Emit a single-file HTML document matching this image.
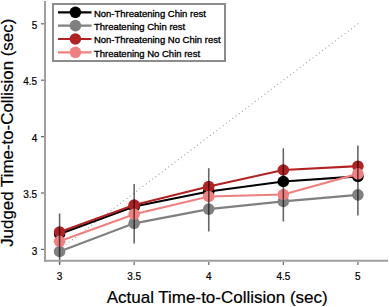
<!DOCTYPE html><html><head><meta charset="utf-8"><style>html,body{margin:0;padding:0;background:#fff}svg{display:block}text{font-family:"Liberation Sans",sans-serif;stroke:#000;stroke-width:0.2px}</style></head><body>
<svg width="389" height="307" viewBox="0 0 389 307">
<rect width="389" height="307" fill="#fff"/>
<line x1="59.60" y1="249.40" x2="357.90" y2="23.80" stroke="#a0a0a0" stroke-width="1.25" stroke-linecap="round" stroke-dasharray="0 4.0215"/>
<polyline points="59.60,234.00 134.18,206.50 208.75,191.50 283.33,181.50 357.90,176.40" fill="none" stroke="#000000" stroke-width="2.2"/>
<circle cx="59.60" cy="234.00" r="5.8" fill="#000000"/>
<circle cx="134.18" cy="206.50" r="5.8" fill="#000000"/>
<circle cx="208.75" cy="191.50" r="5.8" fill="#000000"/>
<circle cx="283.33" cy="181.50" r="5.8" fill="#000000"/>
<circle cx="357.90" cy="176.40" r="5.8" fill="#000000"/>
<polyline points="59.60,251.50 134.18,223.30 208.75,209.10 283.33,201.40 357.90,194.90" fill="none" stroke="#808080" stroke-width="2.2"/>
<circle cx="59.60" cy="251.50" r="5.8" fill="#808080"/>
<circle cx="134.18" cy="223.30" r="5.8" fill="#808080"/>
<circle cx="208.75" cy="209.10" r="5.8" fill="#808080"/>
<circle cx="283.33" cy="201.40" r="5.8" fill="#808080"/>
<circle cx="357.90" cy="194.90" r="5.8" fill="#808080"/>
<polyline points="59.60,232.00 134.18,205.00 208.75,186.50 283.33,170.00 357.90,166.20" fill="none" stroke="#b22222" stroke-width="2.2"/>
<circle cx="59.60" cy="232.00" r="5.8" fill="#b22222"/>
<circle cx="134.18" cy="205.00" r="5.8" fill="#b22222"/>
<circle cx="208.75" cy="186.50" r="5.8" fill="#b22222"/>
<circle cx="283.33" cy="170.00" r="5.8" fill="#b22222"/>
<circle cx="357.90" cy="166.20" r="5.8" fill="#b22222"/>
<polyline points="59.60,241.30 134.18,214.20 208.75,196.50 283.33,194.50 357.90,173.90" fill="none" stroke="#f08080" stroke-width="2.2"/>
<circle cx="59.60" cy="241.30" r="5.8" fill="#f08080"/>
<circle cx="134.18" cy="214.20" r="5.8" fill="#f08080"/>
<circle cx="208.75" cy="196.50" r="5.8" fill="#f08080"/>
<circle cx="283.33" cy="194.50" r="5.8" fill="#f08080"/>
<circle cx="357.90" cy="173.90" r="5.8" fill="#f08080"/>
<line x1="59.60" y1="213.5" x2="59.60" y2="263.9" stroke="rgba(0,0,0,0.6)" stroke-width="1.6"/>
<line x1="134.18" y1="184.0" x2="134.18" y2="243.5" stroke="rgba(0,0,0,0.6)" stroke-width="1.6"/>
<line x1="208.75" y1="168.2" x2="208.75" y2="231.5" stroke="rgba(0,0,0,0.6)" stroke-width="1.6"/>
<line x1="283.33" y1="148.3" x2="283.33" y2="221.5" stroke="rgba(0,0,0,0.6)" stroke-width="1.6"/>
<line x1="357.90" y1="145.4" x2="357.90" y2="215.4" stroke="rgba(0,0,0,0.6)" stroke-width="1.6"/>
<line x1="45" y1="1" x2="45" y2="262" stroke="#a0a0a0" stroke-width="2"/>
<line x1="44" y1="260.7" x2="388" y2="260.7" stroke="#a0a0a0" stroke-width="2"/>
<line x1="59.60" y1="262" x2="59.60" y2="265" stroke="#666" stroke-width="1.2"/>
<text x="59.60" y="279.5" font-size="10" text-anchor="middle" fill="#000">3</text>
<line x1="41" y1="249.40" x2="44" y2="249.40" stroke="#666" stroke-width="1.2"/>
<text x="37.2" y="254.60" font-size="10" text-anchor="end" fill="#000">3</text>
<line x1="134.18" y1="262" x2="134.18" y2="265" stroke="#666" stroke-width="1.2"/>
<text x="134.18" y="279.5" font-size="10" text-anchor="middle" fill="#000">3.5</text>
<line x1="41" y1="193.00" x2="44" y2="193.00" stroke="#666" stroke-width="1.2"/>
<text x="37.2" y="198.20" font-size="10" text-anchor="end" fill="#000">3.5</text>
<line x1="208.75" y1="262" x2="208.75" y2="265" stroke="#666" stroke-width="1.2"/>
<text x="208.75" y="279.5" font-size="10" text-anchor="middle" fill="#000">4</text>
<line x1="41" y1="136.60" x2="44" y2="136.60" stroke="#666" stroke-width="1.2"/>
<text x="37.2" y="141.80" font-size="10" text-anchor="end" fill="#000">4</text>
<line x1="283.33" y1="262" x2="283.33" y2="265" stroke="#666" stroke-width="1.2"/>
<text x="283.33" y="279.5" font-size="10" text-anchor="middle" fill="#000">4.5</text>
<line x1="41" y1="80.20" x2="44" y2="80.20" stroke="#666" stroke-width="1.2"/>
<text x="37.2" y="85.40" font-size="10" text-anchor="end" fill="#000">4.5</text>
<line x1="357.90" y1="262" x2="357.90" y2="265" stroke="#666" stroke-width="1.2"/>
<text x="357.90" y="279.5" font-size="10" text-anchor="middle" fill="#000">5</text>
<line x1="41" y1="23.80" x2="44" y2="23.80" stroke="#666" stroke-width="1.2"/>
<text x="37.2" y="29.00" font-size="10" text-anchor="end" fill="#000">5</text>
<text x="217.2" y="302.5" font-size="17" text-anchor="middle" fill="#000">Actual Time-to-Collision (sec)</text>
<text transform="translate(13.2,132.8) rotate(-90)" x="0" y="0" font-size="16.9" text-anchor="middle" fill="#000">Judged Time-to-Collision (sec)</text>
<rect x="53" y="4" width="172" height="57" fill="#fff" stroke="#8c8c8c" stroke-width="2"/>
<line x1="58" y1="12.30" x2="91.5" y2="12.30" stroke="#000000" stroke-width="2.2"/>
<circle cx="75.4" cy="12.30" r="5.8" fill="#000000"/>
<text x="93.9" y="16.70" font-size="9.5" fill="#000" style="stroke-width:0.32px">Non-Threatening Chin rest</text>
<line x1="58" y1="25.65" x2="91.5" y2="25.65" stroke="#808080" stroke-width="2.2"/>
<circle cx="75.4" cy="25.65" r="5.8" fill="#808080"/>
<text x="93.9" y="30.05" font-size="9.5" fill="#000" style="stroke-width:0.32px">Threatening Chin rest</text>
<line x1="58" y1="39.00" x2="91.5" y2="39.00" stroke="#b22222" stroke-width="2.2"/>
<circle cx="75.4" cy="39.00" r="5.8" fill="#b22222"/>
<text x="93.9" y="43.40" font-size="9.5" fill="#000" style="stroke-width:0.32px">Non-Threatening No Chin rest</text>
<line x1="58" y1="52.35" x2="91.5" y2="52.35" stroke="#f08080" stroke-width="2.2"/>
<circle cx="75.4" cy="52.35" r="5.8" fill="#f08080"/>
<text x="93.9" y="56.75" font-size="9.5" fill="#000" style="stroke-width:0.32px">Threatening No Chin rest</text>
</svg></body></html>
